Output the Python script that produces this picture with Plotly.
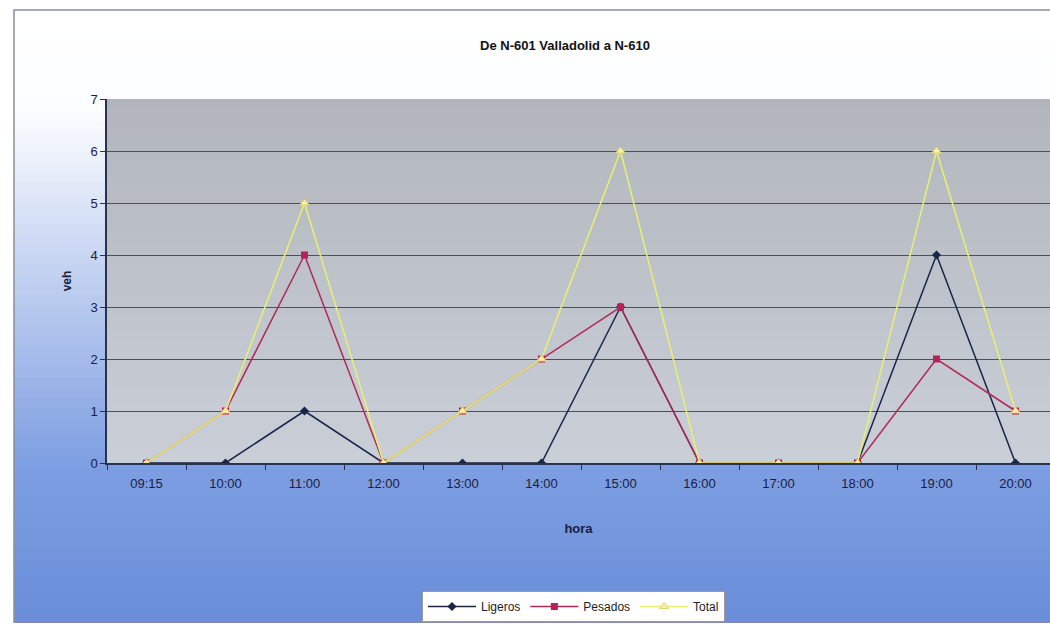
import plotly.graph_objects as go

# datos
horas = ["09:15", "10:00", "11:00", "12:00", "13:00", "14:00",
         "15:00", "16:00", "17:00", "18:00", "19:00", "20:00"]
ligeros = [0, 0, 1, 0, 0, 0, 3, 0, 0, 0, 4, 0]
pesados = [0, 1, 4, 0, 1, 2, 3, 0, 0, 0, 2, 1]
total = [0, 1, 5, 0, 1, 2, 6, 0, 0, 0, 6, 1]

W, H = 1050, 626
L, T, B = 107, 99, 163
PW, PH = W - L, H - T - B


def px_x(p):
    return (p - L) / PW


def px_y(p):
    return (H - B - p) / PH


def mix(c1, c2, t):
    return "rgb(%d,%d,%d)" % tuple(round(a + (b - a) * t) for a, b in zip(c1, c2))


shapes = []

# fondo exterior: blanco arriba, azul abajo
n = 60
top_px, bot_px = 10, 622
stops = [(0.0, (255, 255, 255)), (0.16, (252, 253, 255)), (0.45, (190, 206, 240)),
         (0.75, (125, 158, 225)), (1.0, (106, 142, 218))]


def grad(t):
    for (t0, c0), (t1, c1) in zip(stops, stops[1:]):
        if t <= t1:
            return mix(c0, c1, (t - t0) / (t1 - t0))
    return mix(stops[-1][1], stops[-1][1], 0)


for i in range(n):
    y0 = top_px + (bot_px - top_px) * i / n
    y1 = top_px + (bot_px - top_px) * (i + 1) / n + 1
    shapes.append(dict(type="rect", xref="paper", yref="paper",
                       x0=px_x(14), x1=px_x(W + 5), y0=px_y(y1), y1=px_y(y0),
                       fillcolor=grad(i / (n - 1)), line_width=0, layer="below"))

# marco exterior
shapes.append(dict(type="rect", xref="paper", yref="paper",
                   x0=px_x(14), x1=px_x(W + 5), y0=px_y(bot_px), y1=px_y(top_px),
                   line=dict(color="#8a8f99", width=1.5), fillcolor="rgba(0,0,0,0)",
                   layer="below"))

# fondo del area de trazado: gris degradado
m = 30
for i in range(m):
    shapes.append(dict(type="rect", xref="x domain", yref="y domain",
                       x0=0, x1=1, y0=1 - (i + 1) / m - 0.002, y1=1 - i / m,
                       fillcolor=mix((178, 182, 188), (202, 206, 215), i / (m - 1)),
                       line_width=0, layer="below"))

fig = go.Figure()

fig.add_trace(go.Scatter(x=horas, y=ligeros, name="Ligeros", mode="lines+markers",
                         line=dict(color="#1c2448", width=1.5),
                         marker=dict(symbol="diamond", size=7, color="#1c2448")))
fig.add_trace(go.Scatter(x=horas, y=pesados, name="Pesados", mode="lines+markers",
                         line=dict(color="#b02a5a", width=1.5),
                         marker=dict(symbol="square", size=7, color="#b8205a")))
fig.add_trace(go.Scatter(x=horas, y=total, name="Total", mode="lines+markers",
                         line=dict(color="#e8f070", width=1.5),
                         marker=dict(symbol="triangle-up", size=8, color="#f4f0a8",
                                     line=dict(color="#e8d070", width=1))))

fig.update_layout(
    width=W, height=H,
    margin=dict(l=L, r=0, t=T, b=B),
    paper_bgcolor="white",
    plot_bgcolor="rgba(0,0,0,0)",
    font=dict(family="Liberation Sans, Arial, sans-serif", size=12, color="#1a1a2a"),
    title=dict(text="<b>De N-601 Valladolid a N-610</b>", x=565 / W, xanchor="center",
               y=1 - 45 / H, yanchor="middle", font=dict(size=13, color="#111")),
    shapes=shapes,
    showlegend=True,
    legend=dict(orientation="h", x=px_x(422), xanchor="left", y=px_y(591), yanchor="top",
                bgcolor="white", bordercolor="#9a9a9a", borderwidth=1,
                font=dict(size=12, color="#222"), itemwidth=48, tracegroupgap=0),
)

fig.update_xaxes(
    type="category", range=[-0.5, -0.5 + PW / 79.0],
    showline=True, linecolor="#2a3050", linewidth=1.5,
    ticks="outside", ticklen=5, tickcolor="#2a3050",
    tickson="boundaries", showgrid=False,
    ticklabelstandoff=8,
    tickfont=dict(size=13, color="#1a2040"),
    title=dict(text="<b>hora</b>", font=dict(size=13, color="#1a2040"), standoff=34),
)
fig.update_yaxes(
    range=[0, 7], dtick=1,
    showline=True, linecolor="#2a3050", linewidth=1.5,
    ticks="outside", ticklen=5, tickcolor="#2a3050",
    showgrid=True, gridcolor="#4a4f5c", gridwidth=1,
    zeroline=False,
    tickfont=dict(size=13, color="#1a2040"),
    title=dict(text="<b>veh</b>", font=dict(size=12, color="#1a2040"), standoff=16),
)

fig.write_html("out.html", config={"displayModeBar": False},
               post_script="document.body.style.margin='0';")
